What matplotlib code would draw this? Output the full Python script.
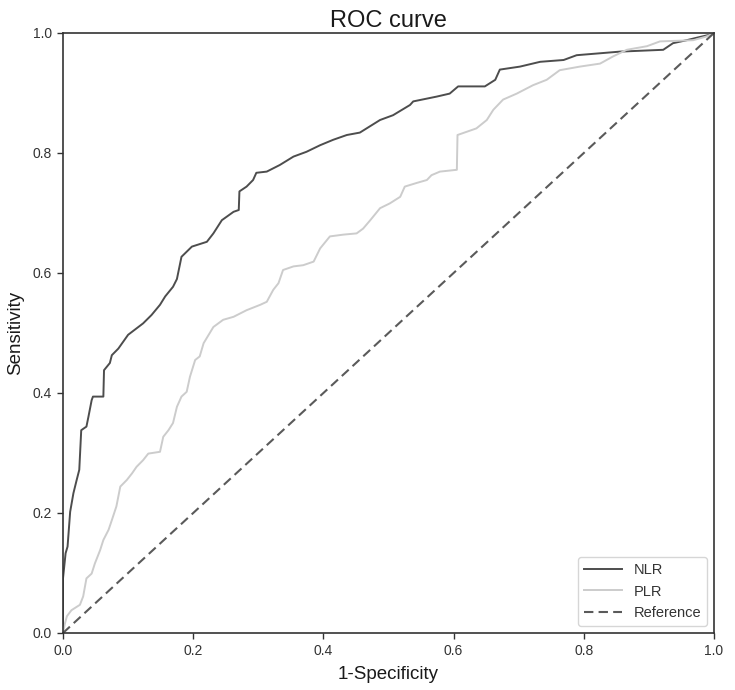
import matplotlib
matplotlib.use("Agg")
import matplotlib.pyplot as plt

plt.rcParams['font.family'] = ['Liberation Sans', 'DejaVu Sans']

nlr_x = [0, 0, 0.004, 0.007, 0.011, 0.016, 0.021, 0.025, 0.028, 0.036, 0.039, 0.044, 0.046, 0.062, 0.063,
         0.072, 0.075, 0.085, 0.100, 0.123, 0.136, 0.149, 0.157, 0.169, 0.175, 0.182, 0.198, 0.221, 0.231,
         0.244, 0.262, 0.270, 0.271, 0.282, 0.292, 0.297, 0.313, 0.333, 0.354, 0.374, 0.395, 0.415, 0.436,
         0.456, 0.487, 0.507, 0.533, 0.538, 0.574, 0.594, 0.607, 0.648, 0.664, 0.671, 0.702, 0.733, 0.769,
         0.789, 0.856, 0.922, 0.937, 0.958, 0.973, 0.993, 1.0]
nlr_y = [0, 0.091, 0.133, 0.144, 0.202, 0.233, 0.255, 0.272, 0.338, 0.344, 0.360, 0.388, 0.394, 0.394, 0.438,
         0.450, 0.463, 0.474, 0.497, 0.516, 0.530, 0.547, 0.561, 0.577, 0.590, 0.627, 0.644, 0.652, 0.666,
         0.688, 0.702, 0.705, 0.736, 0.744, 0.755, 0.767, 0.769, 0.780, 0.794, 0.802, 0.813, 0.822, 0.830,
         0.834, 0.855, 0.863, 0.880, 0.886, 0.894, 0.899, 0.911, 0.911, 0.922, 0.939, 0.944, 0.952, 0.955,
         0.963, 0.969, 0.972, 0.983, 0.988, 0.992, 0.997, 1.0]

plr_x = [0, 0.003, 0.006, 0.013, 0.026, 0.031, 0.036, 0.044, 0.049, 0.057, 0.062, 0.070, 0.075, 0.082, 0.088,
         0.098, 0.106, 0.113, 0.123, 0.131, 0.149, 0.154, 0.162, 0.169, 0.175, 0.182, 0.190, 0.195, 0.203,
         0.210, 0.216, 0.231, 0.246, 0.262, 0.282, 0.303, 0.313, 0.323, 0.331, 0.338, 0.354, 0.369, 0.385,
         0.395, 0.410, 0.431, 0.451, 0.461, 0.472, 0.487, 0.502, 0.518, 0.525, 0.543, 0.559, 0.566, 0.579,
         0.605, 0.606, 0.635, 0.651, 0.661, 0.676, 0.697, 0.722, 0.743, 0.763, 0.794, 0.825, 0.845, 0.866,
         0.897, 0.917, 0.968, 0.988, 1.0]
plr_y = [0, 0.016, 0.028, 0.038, 0.047, 0.061, 0.091, 0.099, 0.116, 0.138, 0.155, 0.172, 0.188, 0.211, 0.244,
         0.255, 0.266, 0.277, 0.288, 0.299, 0.302, 0.327, 0.338, 0.350, 0.377, 0.394, 0.402, 0.427, 0.455,
         0.461, 0.483, 0.510, 0.522, 0.527, 0.538, 0.547, 0.552, 0.572, 0.583, 0.605, 0.611, 0.613, 0.619,
         0.641, 0.661, 0.664, 0.666, 0.674, 0.688, 0.708, 0.716, 0.727, 0.744, 0.750, 0.755, 0.763, 0.769,
         0.772, 0.830, 0.841, 0.855, 0.872, 0.889, 0.899, 0.913, 0.922, 0.938, 0.944, 0.949, 0.961, 0.972,
         0.978, 0.986, 0.988, 0.994, 1.0]

ref_x = [0, 1]
ref_y = [0, 1]
ticks = [0.0, 0.2, 0.4, 0.6, 0.8, 1.0]
tick_labels = ["0.0", "0.2", "0.4", "0.6", "0.8", "1.0"]

fig = plt.figure(figsize=(7.35, 6.9), dpi=100)
ax = fig.add_axes([63/735, 57/690, 651/735, 600/690])

ax.plot(nlr_x, nlr_y, color='#4d4d4d', lw=1.4, label='NLR')
ax.plot(plr_x, plr_y, color='#cccccc', lw=1.4, label='PLR')
ax.plot(ref_x, ref_y, color='#5a5a5a', lw=1.5, ls=(0, (4.5, 2.5)), label='Reference')

ax.set_xlim(0, 1)
ax.set_ylim(0, 1)
ax.set_xticks(ticks)
ax.set_xticklabels(tick_labels)
ax.set_yticks(ticks)
ax.set_yticklabels(tick_labels)
ax.tick_params(direction='out', length=4, width=1, colors='#333333', labelsize=10, labelcolor='#333333', pad=4)
for s in ax.spines.values():
    s.set_color('#333333')
    s.set_linewidth(1.2)

ax.set_title('ROC curve', fontsize=17, color='#1a1a1a', pad=4)
ax.set_xlabel('1-Specificity', fontsize=13.5, color='#1a1a1a', labelpad=6)
ax.set_ylabel('Sensitivity', fontsize=13.5, color='#1a1a1a', labelpad=6)

leg = ax.legend(loc='lower right', fontsize=10.5, frameon=True, fancybox=True, handlelength=2.6,
                borderaxespad=0.5, edgecolor='#cccccc')
for t in leg.get_texts():
    t.set_color('#333333')

fig.savefig('out.png', dpi=100)
